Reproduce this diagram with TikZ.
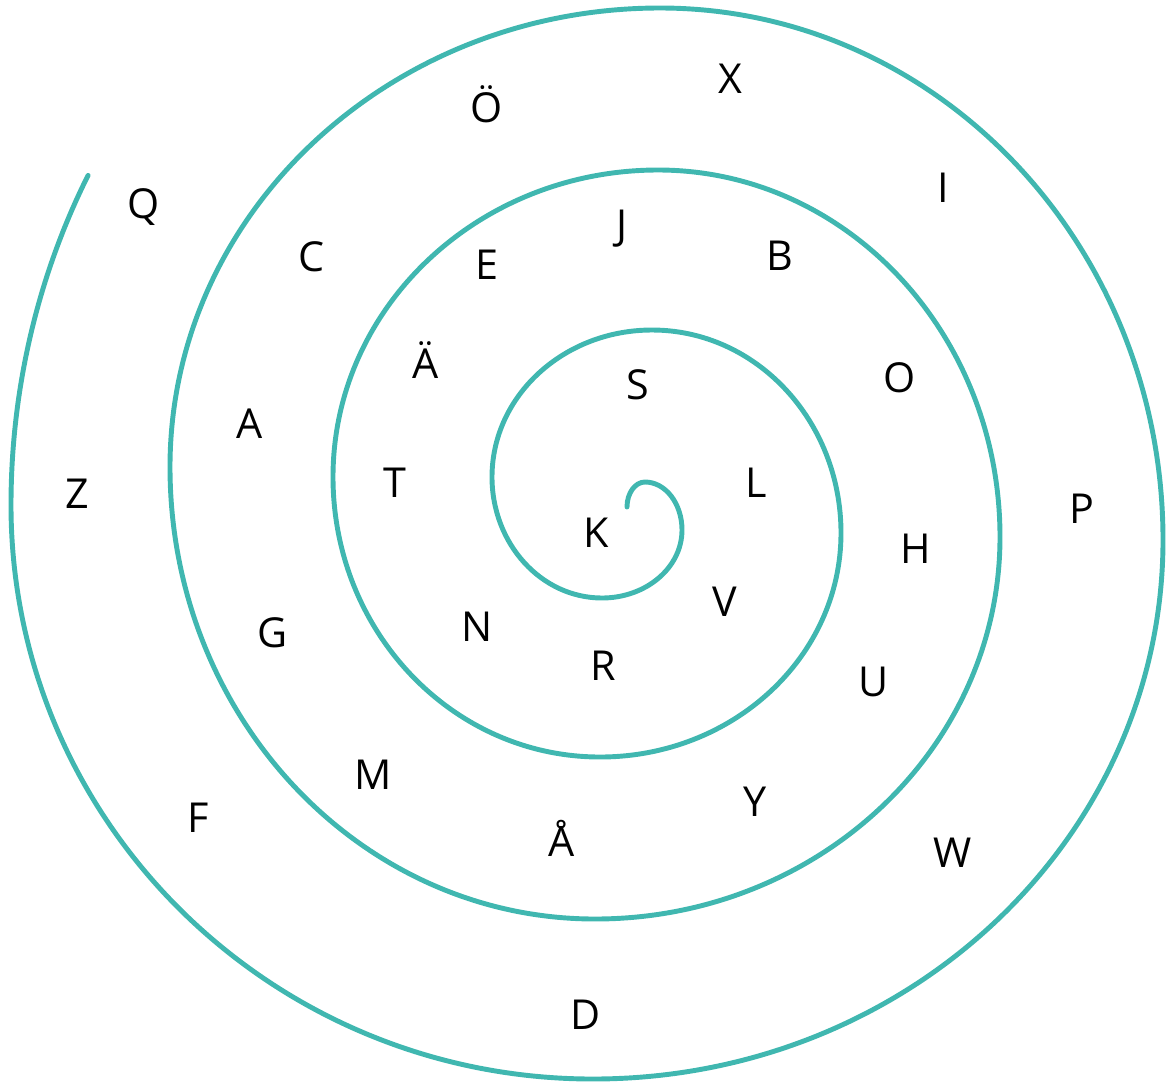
\documentclass[tikz,border=0pt]{standalone}
\usepackage{fontspec}
\setmainfont{Open Sans}
\definecolor{spiralteal}{RGB}{64,183,176}
\begin{document}
\begin{tikzpicture}[x=0.02cm,y=-0.02cm,
  spiralline/.style={draw=spiralteal,line width=2.8pt,line cap=round,line join=round},
  letter/.style={anchor=base,inner sep=0pt,font=\fontsize{23.5}{28}\selectfont}]
\useasboundingbox (0,0) rectangle (1172,1086);
\coordinate (tip) at (627,507);
\draw[spiralline] (tip)
  arc[start angle=180,end angle=270,x radius=18,y radius=25]
  arc[start angle=270,end angle=360,x radius=37,y radius=48]
  arc[start angle=0,end angle=90,x radius=80,y radius=68]
  arc[start angle=90,end angle=180,x radius=110,y radius=121]
  arc[start angle=180,end angle=270,x radius=160,y radius=147]
  arc[start angle=270,end angle=360,x radius=189,y radius=203]
  arc[start angle=0,end angle=90,x radius=241,y radius=224]
  arc[start angle=90,end angle=180,x radius=267,y radius=280]
  arc[start angle=180,end angle=270,x radius=325,y radius=307]
  arc[start angle=270,end angle=360,x radius=342,y radius=367]
  arc[start angle=0,end angle=90,x radius=405,y radius=382]
  arc[start angle=90,end angle=180,x radius=425,y radius=452]
  arc[start angle=180,end angle=270,x radius=490,y radius=459]
  arc[start angle=270,end angle=360,x radius=503,y radius=532]
  arc[start angle=0,end angle=90,x radius=570,y radius=539]
  arc[start angle=90,end angle=180,x radius=582,y radius=574]
  arc[start angle=180,end angle=208.4,x radius=640,y radius=693];
\node[letter] (X) at (730,93) {X};
\node[letter] (Oe) at (487,122) {Ö};
\node[letter] (Q) at (144,218) {Q};
\node[letter] (I) at (943,202) {I};
\node[letter] (C) at (312,271) {C};
\node[letter] (J) at (622,239) {J};
\node[letter] (E) at (487,279) {E};
\node[letter] (B) at (780,270) {B};
\node[letter] (O) at (900,392) {O};
\node[letter] (Ae) at (426,378) {Ä};
\node[letter] (S) at (638,399) {S};
\node[letter] (A) at (250,438) {A};
\node[letter] (T) at (395,497) {T};
\node[letter] (L) at (756,497) {L};
\node[letter] (P) at (1082,523) {P};
\node[letter] (Z) at (77,508) {Z};
\node[letter] (H) at (916,563) {H};
\node[letter] (K) at (596,547) {K};
\node[letter] (V) at (725,616) {V};
\node[letter] (N) at (477,641) {N};
\node[letter] (G) at (273,647) {G};
\node[letter] (R) at (603,680) {R};
\node[letter] (U) at (874,696) {U};
\node[letter] (M) at (373,789) {M};
\node[letter] (Y) at (755,816) {Y};
\node[letter] (F) at (198,832) {F};
\node[letter] (Aa) at (562,856) {Å};
\node[letter] (W) at (953,867) {W};
\node[letter] (D) at (586,1029) {D};
\end{tikzpicture}
\end{document}
